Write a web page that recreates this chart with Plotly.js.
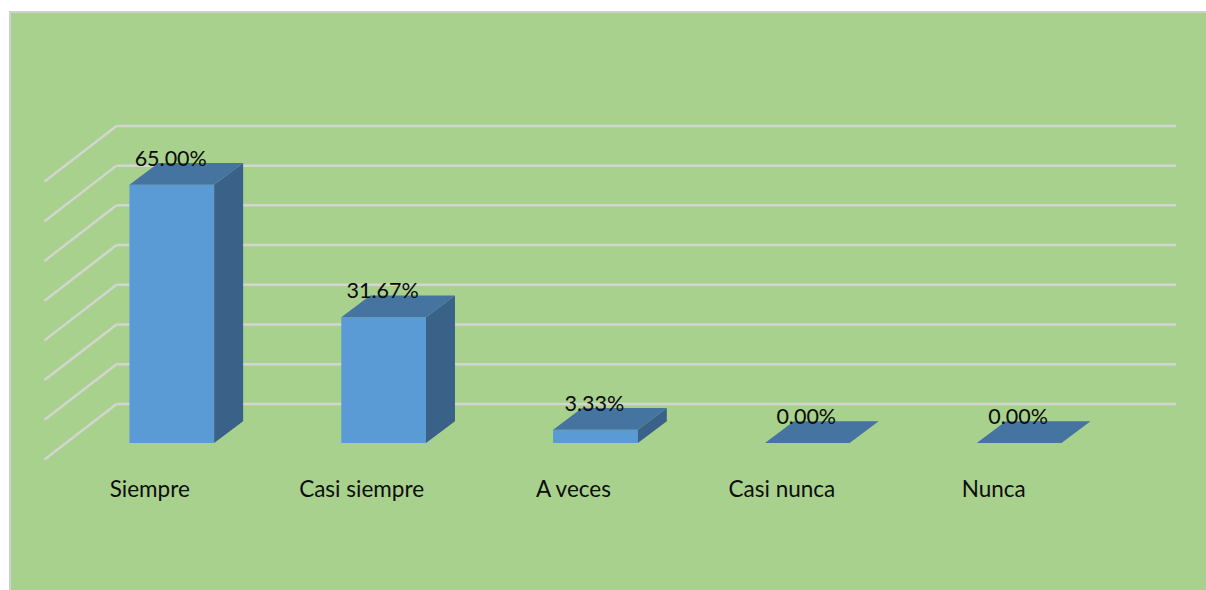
<!DOCTYPE html>
<html>
<head>
<meta charset="utf-8">
<script src="https://cdn.plot.ly/plotly-3.0.1.min.js"></script>
<style>html,body{margin:0;padding:0;background:#fff}#chart{width:1206px;height:590px}</style>
</head>
<body>
<div id="chart"></div>
<script>
const categories = ["Siempre", "Casi siempre", "A veces", "Casi nunca", "Nunca"];
const values = [65.00, 31.67, 3.33, 0.00, 0.00];
const valueLabels = ["65.00%", "31.67%", "3.33%", "0.00%", "0.00%"];
const gridValues = [0, 10, 20, 30, 40, 50, 60, 70];
const categoryLabelShift = [-0.104, -0.104, -0.104, -0.12, -0.12];

const barWidth = 0.4;
const barDepthX = 0.1368, barDepthY = 5.47;
const wallDepthX = 0.34, wallDepthY = 14.0;
const wallOffsetY = 9.82;
const wallEndX = 4.7407, wallStartX = -0.2608;
const labelLift = 6.15, categoryLabelY = -12.3;

const xs = categories.map((_, i) => i);

function polyTrace(color, build) {
  const px = [], py = [];
  values.forEach((v, i) => {
    const p = build(i, v);
    if (!p) return;
    p.forEach(q => { px.push(q[0]); py.push(q[1]); });
    px.push(null); py.push(null);
  });
  return {type: "scatter", mode: "lines", x: px, y: py, fill: "toself", fillcolor: color,
          line: {width: 0, color: color}, hoverinfo: "skip", showlegend: false};
}

const front = {type: "bar", x: xs, y: values, width: barWidth,
  marker: {color: "#5B9BD5", line: {width: 0}}, hoverinfo: "x+y", showlegend: false};

const side = polyTrace("#3A6288", (i, v) => {
  if (v <= 0) return null;
  const r = i + barWidth / 2;
  return [[r, 0], [r + barDepthX, barDepthY], [r + barDepthX, v + barDepthY], [r, v], [r, 0]];
});

const top3d = polyTrace("#44749F", (i, v) => {
  const l = i - barWidth / 2, r = i + barWidth / 2;
  return [[l, v], [r, v], [r + barDepthX, v + barDepthY], [l + barDepthX, v + barDepthY], [l, v]];
});

const dataLabels = {type: "scatter", mode: "text", x: xs.map(i => i - 0.005),
  y: values.map(v => v + labelLift), text: valueLabels, textposition: "middle center",
  textfont: {family: "Lato, sans-serif", size: 21.5, color: "#0a0a0a"},
  hoverinfo: "skip", showlegend: false, cliponaxis: false};

const catLabels = {type: "scatter", mode: "text", x: xs.map(i => i + categoryLabelShift[i]),
  y: xs.map(() => categoryLabelY), text: categories, textposition: "middle center",
  textfont: {family: "Lato, sans-serif", size: 22.5, color: "#0d0d0d"},
  hoverinfo: "skip", showlegend: false, cliponaxis: false};

const gridColor = "#D3D5CF";
const gridShapes = [];
gridValues.forEach(g => {
  const yb = g + wallOffsetY;
  gridShapes.push({type: "line", layer: "below", xref: "x", yref: "y",
    x0: wallStartX, x1: wallEndX, y0: yb, y1: yb, line: {color: gridColor, width: 2.5}});
  gridShapes.push({type: "line", layer: "below", xref: "x", yref: "y",
    x0: wallStartX - wallDepthX, x1: wallStartX, y0: yb - wallDepthY, y1: yb, line: {color: gridColor, width: 2.5}});
});

const layout = {
  width: 1206, height: 590,
  margin: {l: 11, r: 0, t: 13, b: 0, pad: 0},
  paper_bgcolor: "#FFFFFF", plot_bgcolor: "#A9D18E",
  showlegend: false, barmode: "overlay",
  xaxis: {type: "linear", range: [-0.759, 4.882], showgrid: false, zeroline: false, showticklabels: false,
          ticks: "", side: "top", showline: true, linecolor: "#D0D0D0", linewidth: 2, fixedrange: true},
  yaxis: {type: "linear", range: [-37.03, 108.25], showgrid: false, zeroline: false, showticklabels: false,
          ticks: "", showline: true, linecolor: "#D0D0D0", linewidth: 2, fixedrange: true},
  shapes: gridShapes
};

Plotly.newPlot("chart", [front, side, top3d, dataLabels, catLabels], layout, {displayModeBar: false, staticPlot: true});
</script>
</body>
</html>
